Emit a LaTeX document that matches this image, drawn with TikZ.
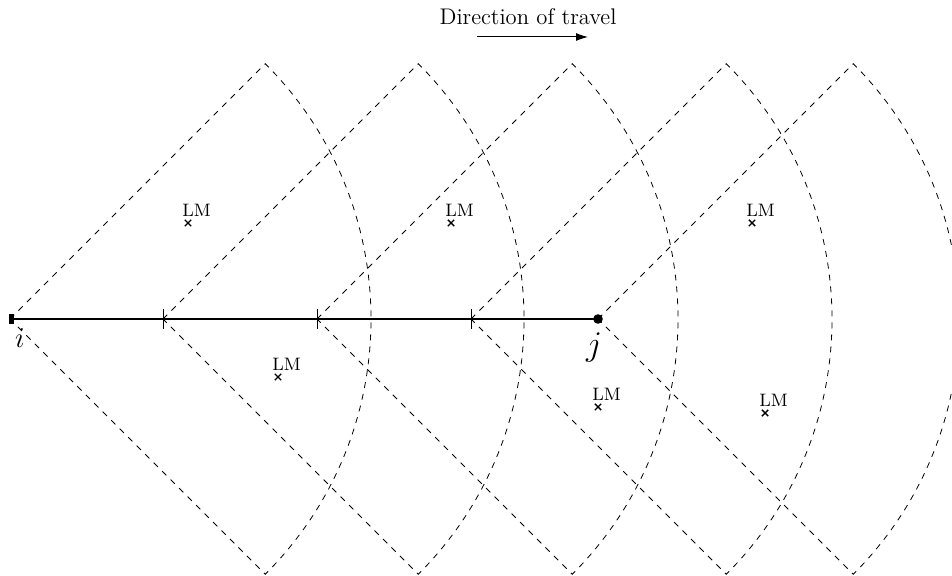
\documentclass[tikz,border=0pt]{standalone}
\usetikzlibrary{arrows.meta}
\begin{document}
\begin{tikzpicture}[x=0.5pt,y=-0.5pt,
  sector/.style={draw,dashed,line width=0.4pt},
  lmtext/.style={font=\fontsize{9}{10}\selectfont,inner sep=0pt,anchor=south west},
  seg/.style={line width=1pt},
  tickmark/.style={line width=0.5pt}]
\useasboundingbox (0,0) rectangle (952,576);
\begin{scope}
\clip (0,0) rectangle (952,576);
% apexes
\foreach \n/\x in {a1/10,a2/163,a3/317,a4/471,a5/598}{
  \coordinate (\n) at (\x,319);
  \draw[sector] (\n) -- ++(45:180.5pt) arc[start angle=45,end angle=-45,radius=180.5pt] -- cycle;
}
\end{scope}
% main line
\draw[seg] (a1) -- (a5);
\foreach \n in {a2,a3,a4}{
  \draw[tickmark] ([yshift=5pt]\n) -- ([yshift=-5pt]\n);
}
\fill ([xshift=-0.5pt,yshift=-2.3pt]a1) rectangle ([xshift=1.8pt,yshift=2.3pt]a1);
\fill (a5) circle[radius=2.4pt];
\node[font=\fontsize{15}{17}\selectfont] (li) at (20,338) {$i$};
\node[font=\fontsize{16}{18}\selectfont] (lj) at (594,348) {$j$};
% landmarks
\foreach \n/\x/\y in {m1/188/223,m2/278/377,m3/451/223,m4/598/407,m5/752/223,m6/765/413}{
  \coordinate (\n) at (\x,\y);
  \draw[line width=0.7pt] ([xshift=-1.6pt,yshift=-1.6pt]\n) -- ([xshift=1.6pt,yshift=1.6pt]\n)
    ([xshift=-1.6pt,yshift=1.6pt]\n) -- ([xshift=1.6pt,yshift=-1.6pt]\n);
  \node[lmtext] (\n l) at ([xshift=-3pt,yshift=2.8pt]\n) {LM};
}
% direction
\node[font=\fontsize{11.3}{13}\selectfont] (dir) at (528,17) {Direction of travel};
\coordinate (ds) at (477,37);
\coordinate (de) at (588,37);
\draw[line width=0.5pt,-{Latex[length=6pt,width=4pt]}] (ds) -- (de);
\end{tikzpicture}
\end{document}
